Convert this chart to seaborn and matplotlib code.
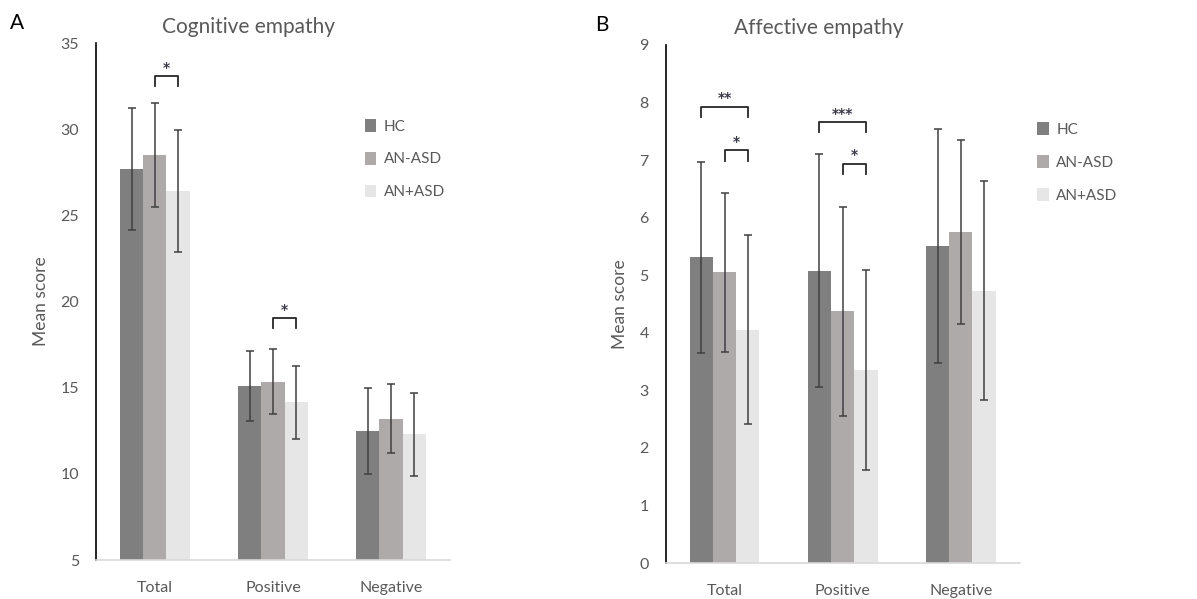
import pandas as pd
import seaborn as sns
import matplotlib.pyplot as plt

# Data
categories = ["Total", "Positive", "Negative"]
groups = ["HC", "AN-ASD", "AN+ASD"]
colors = ["#7f7f7f", "#aeaaaa", "#e7e6e6"]

# Cognitive empathy (panel A): means and SDs per group, order = categories
cog_hc = [27.7, 15.1, 12.5]
cog_hc_sd = [3.55, 2.05, 2.5]
cog_anneg = [28.5, 15.35, 13.2]
cog_anneg_sd = [3.0, 1.9, 2.0]
cog_anpos = [26.4, 14.15, 12.3]
cog_anpos_sd = [3.55, 2.1, 2.4]

# Affective empathy (panel B)
aff_hc = [5.31, 5.08, 5.51]
aff_hc_sd = [1.66, 2.02, 2.03]
aff_anneg = [5.05, 4.37, 5.75]
aff_anneg_sd = [1.38, 1.82, 1.59]
aff_anpos = [4.05, 3.35, 4.73]
aff_anpos_sd = [1.64, 1.74, 1.9]

# significance brackets: (category index, group from, group to, y level, label)
cog_sig = [(0, 1, 2, 33.1, "*"), (1, 1, 2, 19.05, "*")]
aff_sig = [(0, 0, 2, 7.93, "**"), (0, 1, 2, 7.17, "*"),
           (1, 0, 2, 7.66, "***"), (1, 1, 2, 6.94, "*")]

TXT = "#595959"
plt.rcParams['font.family'] = ['Lato', 'DejaVu Sans']


def make_df(means, sds):
    rows = []
    for g, m_list, s_list in zip(groups, means, sds):
        for c, m, s in zip(categories, m_list, s_list):
            rows.append({"category": c, "group": g, "mean": m, "sd": s})
    return pd.DataFrame(rows)


def draw_panel(ax, df, ylim, yticks, title, sig, leg_x, leg_y, bracket_leg):
    sns.barplot(data=df, x="category", y="mean", hue="group", order=categories,
                hue_order=groups, palette=colors, errorbar=None, width=0.59,
                saturation=1, ax=ax)
    # error bars, positioned from the drawn bars
    centers = {}
    for g, cont in zip(groups, ax.containers):
        sub = df[df["group"] == g].set_index("category").loc[categories]
        xs = [p.get_x() + p.get_width() / 2 for p in cont.patches]
        centers[g] = xs
        ax.errorbar(xs, sub["mean"], yerr=sub["sd"], fmt="none",
                    ecolor="#404040", elinewidth=1.1, capsize=3, capthick=1.1)
    # significance brackets
    for ci, g0, g1, y, lab in sig:
        x0 = centers[groups[g0]][ci]
        x1 = centers[groups[g1]][ci]
        ax.plot([x0, x0, x1, x1], [y - bracket_leg, y, y, y - bracket_leg],
                color="#262626", lw=1.3)
        ax.text((x0 + x1) / 2, y + bracket_leg * 0.1, lab, ha="center",
                va="bottom", fontsize=10, fontweight="bold", color="#3a3a4a",
                family="DejaVu Sans")
    ax.set_ylim(*ylim)
    ax.set_yticks(yticks)
    ax.set_xlim(-0.5, 2.5)
    ax.set_xlabel("")
    ax.set_ylabel("Mean score", color=TXT, fontsize=12.5, labelpad=8)
    ax.tick_params(axis="both", length=0, colors=TXT, labelsize=11.5)
    ax.tick_params(axis="x", pad=15)
    ax.tick_params(axis="y", pad=12)
    for s in ["top", "right"]:
        ax.spines[s].set_visible(False)
    ax.spines["left"].set_color("black")
    ax.spines["left"].set_linewidth(1.2)
    ax.spines["bottom"].set_color("#d9d9d9")
    ax.spines["bottom"].set_linewidth(1.2)
    ax.text(0.432, 1.032, title, transform=ax.transAxes, ha="center",
            va="center", fontsize=15, color=TXT)
    leg = ax.legend(loc="upper left", bbox_to_anchor=(leg_x, leg_y),
                    frameon=False, handlelength=0.75, handleheight=0.9,
                    handletextpad=0.5, labelspacing=1.2, fontsize=11)
    for t in leg.get_texts():
        t.set_color(TXT)


fig = plt.figure(figsize=(11.97, 5.99), dpi=100)
axA = fig.add_axes([0.080, 0.065, 0.296, 0.863])
axB = fig.add_axes([0.556, 0.060, 0.296, 0.865])

dfA = make_df([cog_hc, cog_anneg, cog_anpos], [cog_hc_sd, cog_anneg_sd, cog_anpos_sd])
dfB = make_df([aff_hc, aff_anneg, aff_anpos], [aff_hc_sd, aff_anneg_sd, aff_anpos_sd])

draw_panel(axA, dfA, (5, 35), range(5, 36, 5), "Cognitive empathy", cog_sig,
           0.72, 0.88, 0.6)
draw_panel(axB, dfB, (0, 9), range(0, 10), "Affective empathy", aff_sig,
           1.01, 0.877, 0.18)

fig.text(0.008, 0.962, "A", fontsize=15, color="black", va="center")
fig.text(0.497, 0.959, "B", fontsize=15, color="black", va="center")

fig.savefig("out.png", dpi=100)
